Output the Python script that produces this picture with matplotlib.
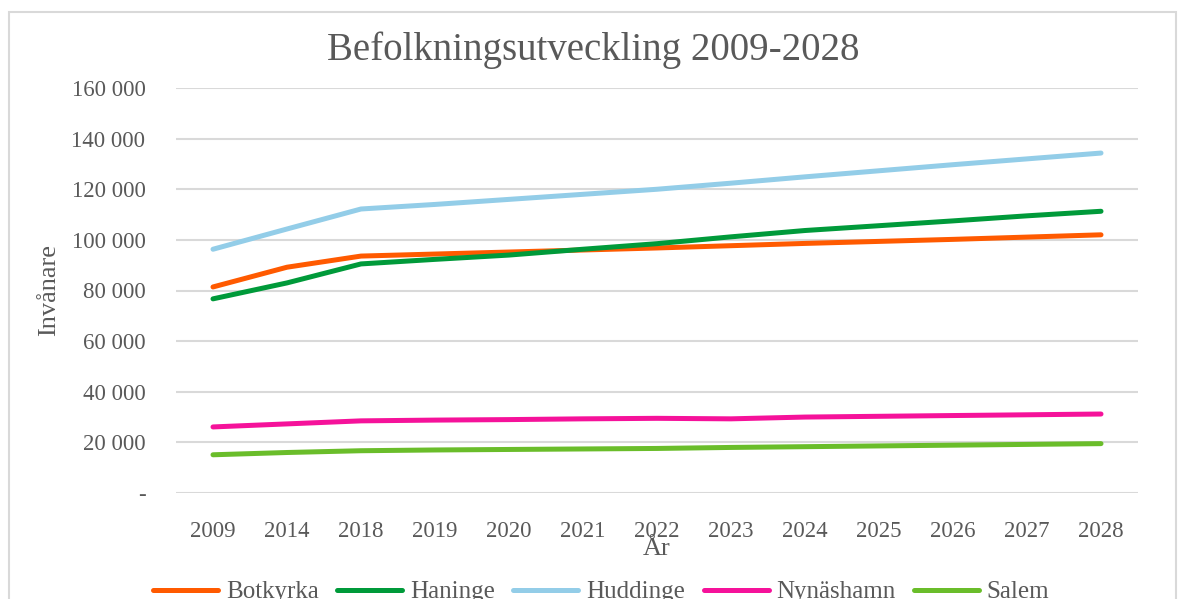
import matplotlib
matplotlib.use("Agg")
import matplotlib.pyplot as plt
from matplotlib.patches import Rectangle
from matplotlib.ticker import FuncFormatter

years = ["2009", "2014", "2018", "2019", "2020", "2021", "2022",
         "2023", "2024", "2025", "2026", "2027", "2028"]

botkyrka = [81400, 89200, 93600, 94400, 95200, 96000, 96800,
            97700, 98600, 99400, 100200, 101100, 102000]
haninge = [76700, 83000, 90500, 92300, 94000, 96300, 98500,
           101200, 103700, 105600, 107500, 109500, 111300]
huddinge = [96300, 104300, 112200, 114000, 116000, 118000, 120000,
            122400, 124900, 127300, 129700, 132000, 134300]
nynashamn = [26100, 27300, 28500, 28800, 29000, 29300, 29500,
             29300, 30000, 30300, 30600, 30900, 31200]
salem = [15100, 16000, 16700, 17000, 17200, 17400, 17600,
         18000, 18300, 18600, 18900, 19200, 19500]

series = [("Botkyrka", botkyrka, "#ff5a00"),
          ("Haninge", haninge, "#009a3a"),
          ("Huddinge", huddinge, "#93cde8"),
          ("Nynäshamn", nynashamn, "#f5129a"),
          ("Salem", salem, "#6abd2a")]

W, H = 1186, 599
plt.rcParams['font.family'] = ['Liberation Serif', 'DejaVu Serif']
txt = "#595959"

fig = plt.figure(figsize=(W / 100, H / 100), dpi=100)
ax = fig.add_axes([176 / W, 1 - 493 / H, (1138 - 176) / W, (493 - 88) / H])

x = range(len(years))
for name, vals, col in series:
    ax.plot(x, vals, color=col, lw=3.6, label=name, solid_capstyle='round')

ax.set_xlim(-0.5, len(years) - 0.5)
ax.set_ylim(0, 160000)
ax.set_yticks(range(0, 160001, 20000))
ax.yaxis.set_major_formatter(FuncFormatter(
    lambda v, p: "-" if v == 0 else f"{int(v):,}".replace(",", " ")))
ax.set_xticks(list(x))
ax.set_xticklabels(years)
ax.tick_params(length=0, labelsize=16.5, colors=txt)
ax.tick_params(axis='y', pad=22)
ax.tick_params(axis='x', pad=20)
ax.grid(axis='y', color="#d9d9d9", lw=1.5)
ax.set_axisbelow(True)
for s in ax.spines.values():
    s.set_visible(False)

ax.set_ylabel("Invånare", fontsize=19, color=txt, labelpad=8)
ax.set_xlabel("År", fontsize=19, color=txt, labelpad=-3)
fig.text(0.5, 1 - 50 / H, "Befolkningsutveckling 2009-2028",
         ha='center', va='center', fontsize=28, color=txt)

fig.legend(loc='center', bbox_to_anchor=(0.507, 1 - 592 / H), ncol=5,
           frameon=False, fontsize=18, handlelength=2.6, columnspacing=0.75,
           handletextpad=0.3, labelcolor=txt)

fig.patches.append(Rectangle((9 / W, -0.2), (1176 - 9) / W, 1.2 - 12 / H,
                             transform=fig.transFigure, fill=False,
                             edgecolor="#d9d9d9", lw=1.5))

fig.savefig("out.png", dpi=100)
